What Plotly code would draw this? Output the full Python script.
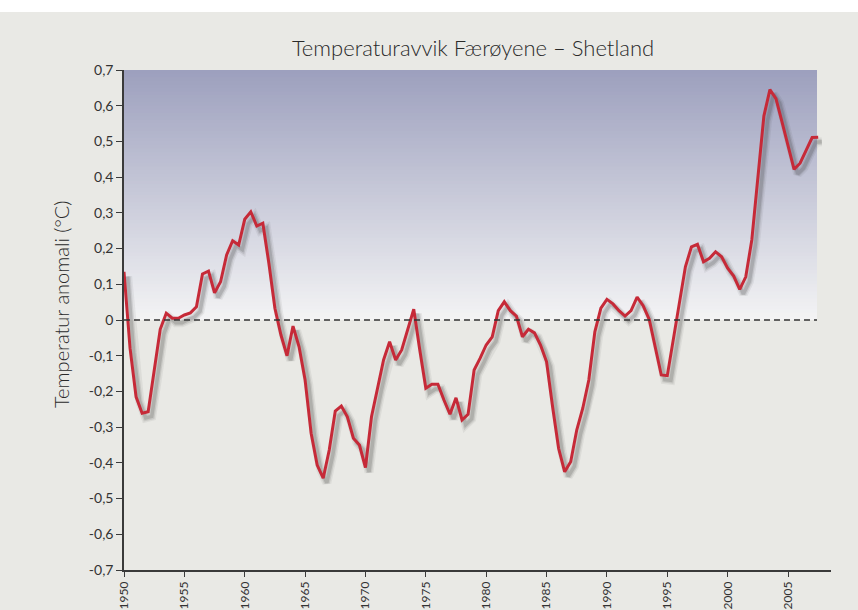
import numpy as np
import plotly.graph_objects as go

# ---------------- data ----------------
title_text = "Temperaturavvik Færøyene – Shetland"
y_title = "Temperatur anomali (°C)"

start_year = 1950.0
step = 0.5  # semi-annual values
anomaly = [
    0.135, -0.079, -0.215, -0.261, -0.257, -0.145, -0.026, 0.019, 0.005, 0.005,   # 1950-1954.5
    0.014, 0.020, 0.037, 0.129, 0.137, 0.076, 0.107, 0.182, 0.222, 0.210,         # 1955-1959.5
    0.282, 0.303, 0.263, 0.271, 0.159, 0.033, -0.042, -0.100, -0.017, -0.075,     # 1960-1964.5
    -0.168, -0.317, -0.406, -0.443, -0.364, -0.255, -0.241, -0.271, -0.331, -0.350,  # 1965-1969.5
    -0.413, -0.271, -0.187, -0.112, -0.061, -0.112, -0.084, -0.028, 0.030, -0.084,  # 1970-1974.5
    -0.191, -0.180, -0.180, -0.224, -0.264, -0.218, -0.280, -0.264, -0.140, -0.107, # 1975-1979.5
    -0.070, -0.047, 0.026, 0.051, 0.026, 0.011, -0.047, -0.026, -0.036, -0.070,    # 1980-1984.5
    -0.117, -0.243, -0.360, -0.425, -0.397, -0.308, -0.247, -0.168, -0.033, 0.033,  # 1985-1989.5
    0.058, 0.045, 0.026, 0.011, 0.026, 0.064, 0.040, 0.002, -0.075, -0.154,        # 1990-1994.5
    -0.156, -0.051, 0.051, 0.149, 0.205, 0.212, 0.163, 0.173, 0.191, 0.177,        # 1995-1999.5
    0.145, 0.123, 0.086, 0.121, 0.224, 0.392, 0.571, 0.645, 0.620, 0.555,          # 2000-2004.5
    0.485, 0.422, 0.439, 0.474, 0.511, 0.512,                                       # 2005-2007.5
]
years = [start_year + step * i for i in range(len(anomaly))]

y_tickvals = [0.7, 0.6, 0.5, 0.4, 0.3, 0.2, 0.1, 0.0, -0.1, -0.2, -0.3, -0.4, -0.5, -0.6, -0.7]
y_ticktext = ["0,7", "0,6", "0,5", "0,4", "0,3", "0,2", "0,1", "0",
              "-0,1", "-0,2", "-0,3", "-0,4", "-0,5", "-0,6", "-0,7"]
x_tickvals = [1950, 1955, 1960, 1965, 1970, 1975, 1980, 1985, 1990, 1995, 2000, 2005]
x_ticktext = [str(v) for v in x_tickvals]

# ---------------- style ----------------
FONT = "Lato"
BG = "#e9e9e5"
LINE_RED = "#c62a38"
AXIS_COL = "#3a3a3a"
shade_x_end = 2007.4
x_range = [1950, 2008.56]

fig = go.Figure()

# gradient panel above zero (many thin overlapping bands)
shapes = []
n_bands = 70
c_low = np.array([244, 244, 245])
c_high = np.array([157, 160, 190])
for i in range(n_bands):
    t0 = i / n_bands
    t1 = (i + 1) / n_bands
    tm = (t0 + t1) / 2
    c = c_low + (c_high - c_low) * tm
    shapes.append(dict(
        type="rect", xref="x", yref="y", layer="below",
        x0=x_range[0], x1=shade_x_end, y0=0.7 * t0, y1=min(0.7, 0.7 * t1 + 0.008),
        fillcolor="rgb(%d,%d,%d)" % tuple(c.astype(int)), line=dict(width=0),
    ))
# white strip at top of page
shapes.append(dict(type="rect", xref="paper", yref="paper", layer="below",
                   x0=-0.3, x1=1.3, y0=1.116, y1=1.3,
                   fillcolor="white", line=dict(width=0)))
# dashed zero line
shapes.append(dict(type="line", xref="x", yref="y", layer="above",
                   x0=x_range[0], x1=shade_x_end, y0=0, y1=0,
                   line=dict(color="#333333", width=1.6, dash="6px,4px")))

# shadow of the line
yrs = np.array(years)
vals = np.array(anomaly)
for w, a in [(9, 0.07), (6, 0.12), (3.5, 0.18)]:
    fig.add_trace(go.Scatter(
        x=yrs + 0.3, y=vals - 0.013, mode="lines",
        line=dict(color="rgba(60,60,60,%.2f)" % a, width=w),
        hoverinfo="skip", showlegend=False,
    ))

fig.add_trace(go.Scatter(
    x=years, y=anomaly, mode="lines",
    line=dict(color=LINE_RED, width=3),
    showlegend=False, cliponaxis=False,
))

fig.update_layout(
    width=858, height=610,
    margin=dict(l=124, r=27, t=70, b=40, autoexpand=False),
    paper_bgcolor=BG, plot_bgcolor=BG,
    shapes=shapes,
    title=dict(text=title_text, x=473 / 858, xanchor="center",
               y=1 - 48 / 610, yanchor="middle",
               font=dict(family=FONT, size=22, color="#2a2a2a", weight=300)),
    font=dict(family=FONT, color="#333333"),
    annotations=[dict(text=y_title, xref="paper", yref="paper",
                      x=(61 - 124) / 707, y=(570 - 305) / 500,
                      xanchor="center", yanchor="middle", textangle=-90,
                      showarrow=False,
                      font=dict(family=FONT, size=20, color="#2a2a2a", weight=300))],
    xaxis=dict(range=x_range, showgrid=False, zeroline=False, automargin=False,
               tickvals=x_tickvals, ticktext=x_ticktext, tickangle=-90,
               ticks="outside", ticklen=5, tickwidth=1.3, tickcolor=AXIS_COL,
               showline=True, linecolor=AXIS_COL, linewidth=1.5,
               tickfont=dict(family=FONT, size=12, color="#333333")),
    yaxis=dict(range=[-0.7, 0.7], showgrid=False, zeroline=False, automargin=False,
               tickvals=y_tickvals, ticktext=y_ticktext,
               ticks="outside", ticklen=6, tickwidth=1.3, tickcolor=AXIS_COL,
               showline=True, linecolor=AXIS_COL, linewidth=1.5,
               tickfont=dict(family=FONT, size=14, color="#333333")),
)

fig.write_html("out.html", config={"displayModeBar": False},
               post_script="document.body.style.margin='0';")
